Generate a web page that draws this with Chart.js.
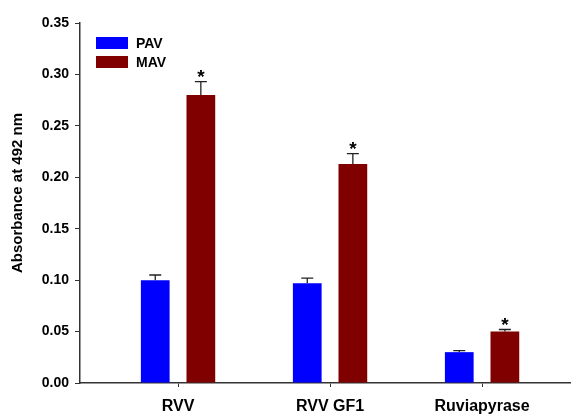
<!DOCTYPE html>
<html>
<head>
<meta charset="utf-8">
<script src="https://cdn.jsdelivr.net/npm/chart.js@4/dist/chart.umd.min.js"></script>
<style>
  html, body { margin: 0; padding: 0; background: #fff; }
  #wrap { width: 571px; height: 416px; }
</style>
</head>
<body>
<div id="wrap"><canvas id="absorb"></canvas></div>
<script>
const Venoms = ['RVV', 'RVV GF1', 'Ruviapyrase'];
const PAV_Mean = [0.100, 0.097, 0.030];
const PAV_Err = [0.005, 0.005, 0.0015];
const MAV_Mean = [0.280, 0.213, 0.050];
const MAV_Err = [0.013, 0.010, 0.002];
const Signif = ['*', '*', '*'];   // marks above MAV bars
const Y_Ticks = [0, 0.05, 0.10, 0.15, 0.20, 0.25, 0.30, 0.35];
const Y_Title = 'Absorbance at 492 nm';

const FONT = 'Liberation Sans, Arial, sans-serif';

// error bars (up only) + asterisks, drawn through the scales
const errorBars = {
    id: 'errorBars',
    afterDatasetsDraw(chart) {
        const c = chart.ctx;
        const y = chart.scales.y;
        chart.data.datasets.forEach((ds, i) => {
            const meta = chart.getDatasetMeta(i);
            meta.data.forEach((bar, j) => {
                const top = y.getPixelForValue(ds.data[j].y + ds.err[j]);
                c.save();
                c.strokeStyle = '#222';
                c.lineWidth = 1.3;
                c.beginPath();
                c.moveTo(bar.x, bar.y);
                c.lineTo(bar.x, top);
                c.moveTo(bar.x - 6, top);
                c.lineTo(bar.x + 6, top);
                c.stroke();
                if (ds.marks) {
                    c.fillStyle = '#000';
                    c.font = 'bold 19px ' + FONT;
                    c.textAlign = 'center';
                    c.textBaseline = 'alphabetic';
                    c.fillText(ds.marks[j], bar.x, top + 1);
                }
                c.restore();
            });
        });
    }
};

// legend inside the plot, top-left; y title a bit above centre like the source
const extras = {
    id: 'extras',
    afterDraw(chart) {
        const c = chart.ctx;
        const a = chart.chartArea;
        c.save();
        c.font = 'bold 14px ' + FONT;
        c.textBaseline = 'middle';
        chart.data.datasets.forEach((ds, i) => {
            const yy = a.top + 20 + i * 19;
            c.fillStyle = ds.backgroundColor;
            c.fillRect(a.left + 16, yy - 6, 32, 12);
            c.fillStyle = '#000';
            c.fillText(ds.label, a.left + 56, yy + 1);
        });
        c.translate(18, a.top + (a.bottom - a.top) / 2 - 10);
        c.rotate(-Math.PI / 2);
        c.textAlign = 'center';
        c.font = 'bold 15px ' + FONT;
        c.fillText(Y_Title, 0, 0);
        c.restore();
    }
};

const toPts = arr => arr.map((v, i) => ({ x: i, y: v }));

new Chart(document.getElementById('absorb'), {
    type: 'bar',
    data: {
        datasets: [
            {
                label: 'PAV',
                data: toPts(PAV_Mean),
                err: PAV_Err,
                backgroundColor: '#0000ff',
                categoryPercentage: 0.6,
                barPercentage: 0.63
            },
            {
                label: 'MAV',
                data: toPts(MAV_Mean),
                err: MAV_Err,
                marks: Signif,
                backgroundColor: '#800000',
                categoryPercentage: 0.6,
                barPercentage: 0.63
            }
        ]
    },
    options: {
        responsive: true,
        maintainAspectRatio: false,
        animation: false,
        layout: { padding: { top: 23, right: 0, left: 0, bottom: 0 } },
        scales: {
            x: {
                type: 'linear',
                offset: false,
                min: -0.645,
                max: 2.585,
                afterBuildTicks: s => { s.ticks = Venoms.map((_, i) => ({ value: i })); },
                afterFit: s => { s.height = 33; },
                border: { display: true, color: '#333', width: 1.5 },
                grid: { offset: false, drawOnChartArea: false, drawTicks: true, tickLength: 4, color: '#333' },
                ticks: {
                    color: '#000',
                    padding: 10,
                    autoSkip: false,
                    maxRotation: 0,
                    font: { family: FONT, size: 16, weight: 'bold' },
                    callback: v => Venoms[v]
                }
            },
            y: {
                min: 0,
                max: 0.35,
                afterBuildTicks: s => { s.ticks = Y_Ticks.map(v => ({ value: v })); },
                afterFit: s => { s.width = 80; },
                border: { display: true, color: '#333', width: 1.5 },
                grid: { drawOnChartArea: false, drawTicks: true, tickLength: 5, color: '#333' },
                ticks: {
                    color: '#000',
                    padding: 6,
                    font: { family: FONT, size: 14, weight: 'bold' },
                    callback: v => v.toFixed(2)
                }
            }
        },
        plugins: {
            legend: { display: false },
            tooltip: { enabled: false }
        }
    },
    plugins: [errorBars, extras]
});
</script>
</body>
</html>
